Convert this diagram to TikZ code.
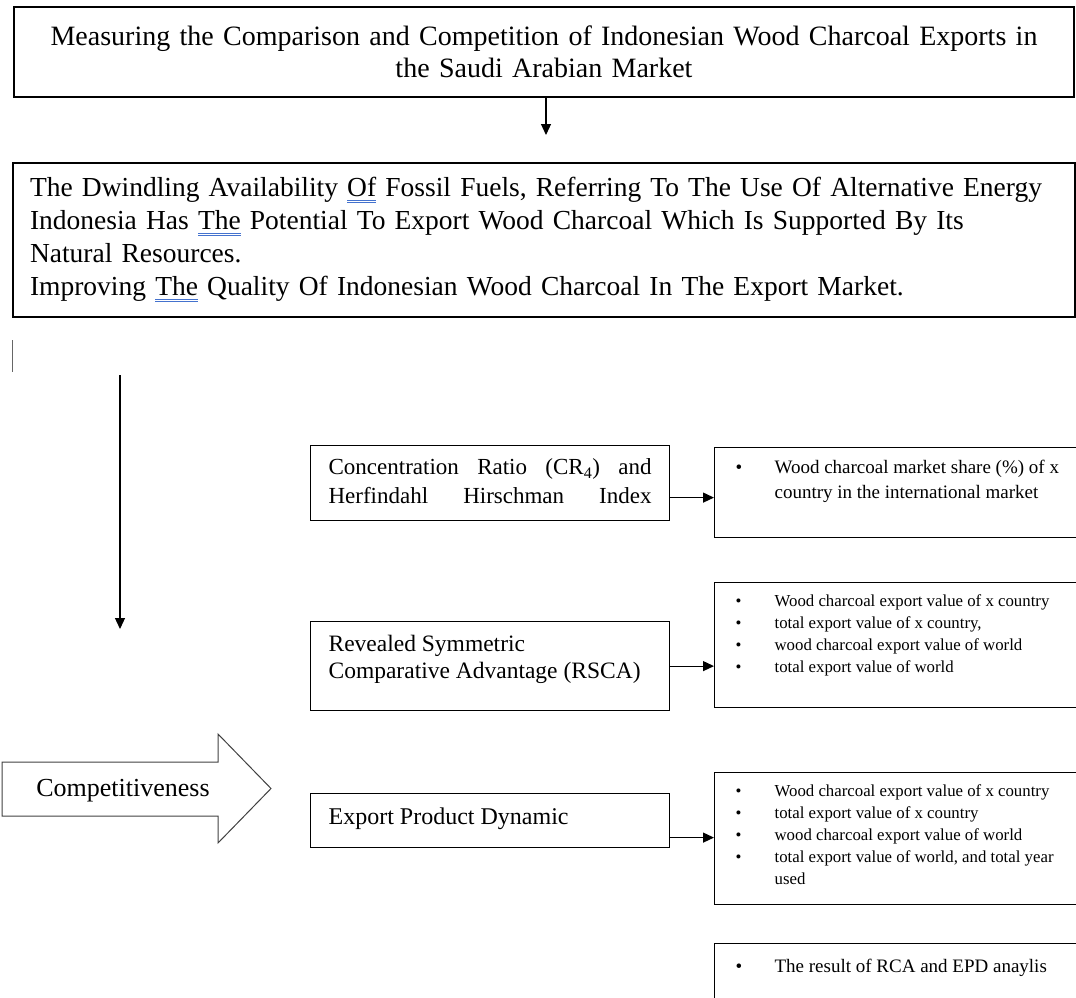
\documentclass[tikz,border=0pt]{standalone}
\usepackage{fontspec}
\setmainfont{Liberation Serif}
\usetikzlibrary{arrows.meta}
\definecolor{wordblue}{RGB}{68,114,206}
\newcommand{\gramline}[1]{\setbox0=\hbox{#1}\rlap{\color{wordblue}\rule[-4pt]{\wd0}{1pt}\hspace{-\wd0}\rule[-6.5pt]{\wd0}{1pt}}#1}
\newcommand{\boxtext}[4]{\parbox[c][#1][t]{#2}{\vspace*{#3}#4}}
\newcommand{\bul}[1]{\makebox[39pt][l]{\textbullet}#1}
\begin{document}
\begin{tikzpicture}[x=1pt,y=-1pt,
  frame/.style={draw, line width=1.2pt, inner xsep=#1, inner ysep=0pt, anchor=north west},
  frame/.default=18pt,
  link/.style={-{Triangle[length=11pt,width=10pt]}, line width=1.2pt}]
  \useasboundingbox (0,0) rectangle (1076,998);
  \clip (0,0) rectangle (1076,998);
  \node[draw, line width=1.2pt, minimum width=1060pt, minimum height=90pt, text width=1030pt, align=center,
    font=\fontsize{28}{32}\selectfont] (title) at (544,52)
    {Measuring the Comparison and Competition of Indonesian Wood Charcoal Exports in\\ the Saudi Arabian Market};
  \node[draw, line width=1.2pt, minimum width=1062pt, minimum height=154pt, text width=1028pt, inner xsep=17pt, align=left,
    font=\fontsize{27.5}{33}\selectfont] (context) at (544,240)
    {The Dwindling Availability \gramline{Of} Fossil Fuels, Referring To The Use Of Alternative Energy\\
     Indonesia Has \gramline{The} Potential To Export Wood Charcoal Which Is Supported By Its\\
     Natural Resources.\\
     Improving \gramline{The} Quality Of Indonesian Wood Charcoal In The Export Market.};
  \node[frame] (cr) at (310,445) {\boxtext{75pt}{323pt}{13pt}{\fontsize{23}{29}\selectfont
    \makebox[323pt][s]{Concentration Ratio (CR\textsubscript{4}) and}\\
    \makebox[323pt][s]{Herfindahl Hirschman Index}}};
  \node[frame] (rsca) at (310,621) {\boxtext{89pt}{323pt}{14pt}{\fontsize{23.5}{27}\selectfont
    Revealed Symmetric\\ Comparative Advantage (RSCA)}};
  \node[frame] (epd) at (310,793) {\boxtext{54pt}{323pt}{14pt}{\fontsize{24}{27}\selectfont
    Export Product Dynamic}};
  \node[frame=21pt] (share) at (714,447) {\boxtext{90pt}{324pt}{13pt}{\fontsize{19}{25}\selectfont
    \bul{Wood charcoal market share (\%) of x}\\ \hspace*{39pt}country in the international market}};
  \node[frame=21pt] (rscadata) at (714,582) {\boxtext{125pt}{324pt}{12pt}{\fontsize{16.8}{22}\selectfont
    \bul{Wood charcoal export value of x country}\\
    \bul{total export value of x country,}\\
    \bul{wood charcoal export value of world}\\
    \bul{total export value of world}}};
  \node[frame=21pt] (epddata) at (714,772) {\boxtext{132pt}{324pt}{12pt}{\fontsize{16.8}{22}\selectfont
    \bul{Wood charcoal export value of x country}\\
    \bul{total export value of x country}\\
    \bul{wood charcoal export value of world}\\
    \bul{total export value of world, and total year}\\
    \hspace*{39pt}used}};
  \node[frame=21pt] (result) at (714,943) {\boxtext{70pt}{324pt}{16pt}{\fontsize{19}{24}\selectfont
    \bul{The result of RCA and EPD anaylis}}};
  \draw[line width=1pt, black!75] (2,762) -- (218,762) -- (218,734) -- (271,788.5) -- (218,843) -- (218,816) -- (2,816) -- cycle;
  \node[font=\fontsize{26}{28}\selectfont] (comp) at (123,791) {Competitiveness};
  \coordinate (t1) at (546,135);
  \draw[link] (title.south -| t1) -- (t1);
  \coordinate (c0) at (12,340);
  \coordinate (c1) at (12,372);
  \draw[black!60, line width=0.8pt] (c0) -- (c1);
  \coordinate (l0) at (120,375);
  \coordinate (l1) at (120,629);
  \draw[link] (l0) -- (l1);
  \draw[link] ([yshift=-14.5pt]cr.east) -- ([yshift=-14.5pt]cr.east -| share.west);
  \draw[link] (rsca.east) -- (rsca.east -| rscadata.west);
  \draw[link] ([yshift=-17pt]epd.east) -- ([yshift=-17pt]epd.east -| epddata.west);
\end{tikzpicture}
\end{document}
